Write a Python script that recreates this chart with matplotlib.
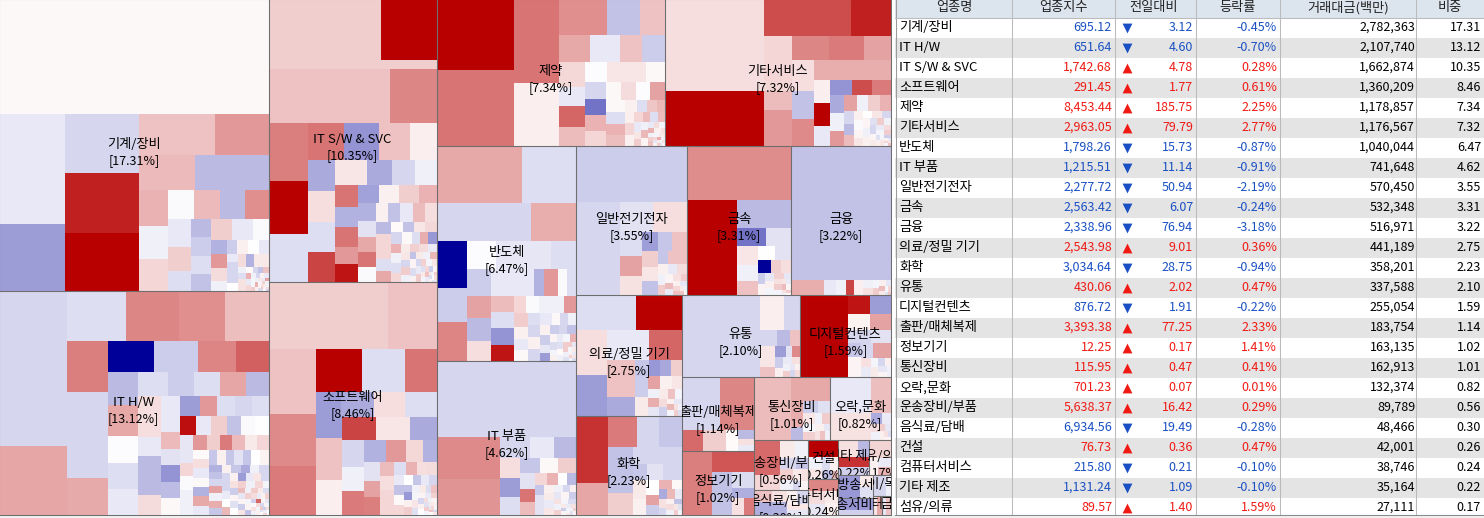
import matplotlib
matplotlib.use('Agg')
import matplotlib.pyplot as plt
from matplotlib.colors import LinearSegmentedColormap
from matplotlib.patches import Rectangle

plt.rcParams['font.family'] = ['Noto Sans CJK KR', 'DejaVu Sans']

# table columns
names = ['기계/장비', 'IT H/W', 'IT S/W & SVC', '소프트웨어', '제약', '기타서비스', '반도체', 'IT 부품',
         '일반전기전자', '금속', '금융', '의료/정밀 기기', '화학', '유통', '디지털컨텐츠', '출판/매체복제',
         '정보기기', '통신장비', '오락,문화', '운송장비/부품', '음식료/담배', '건설', '컴퓨터서비스',
         '기타 제조', '섬유/의류']
index_val = ['695.12', '651.64', '1,742.68', '291.45', '8,453.44', '2,963.05', '1,798.26', '1,215.51',
             '2,277.72', '2,563.42', '2,338.96', '2,543.98', '3,034.64', '430.06', '876.72', '3,393.38',
             '12.25', '115.95', '701.23', '5,638.37', '6,934.56', '76.73', '215.80', '1,131.24', '89.57']
diff_val = ['3.12', '4.60', '4.78', '1.77', '185.75', '79.79', '15.73', '11.14', '50.94', '6.07', '76.94',
            '9.01', '28.75', '2.02', '1.91', '77.25', '0.17', '0.47', '0.07', '16.42', '19.49', '0.36',
            '0.21', '1.09', '1.40']
rate_val = [-0.45, -0.70, 0.28, 0.61, 2.25, 2.77, -0.87, -0.91, -2.19, -0.24, -3.18, 0.36, -0.94, 0.47,
            -0.22, 2.33, 1.41, 0.41, 0.01, 0.29, -0.28, 0.47, -0.10, -0.10, 1.59]
amount_val = ['2,782,363', '2,107,740', '1,662,874', '1,360,209', '1,178,857', '1,176,567', '1,040,044',
              '741,648', '570,450', '532,348', '516,971', '441,189', '358,201', '337,588', '255,054',
              '183,754', '163,135', '162,913', '132,374', '89,789', '48,466', '42,001', '38,746',
              '35,164', '27,111']
share_val = ['17.31', '13.12', '10.35', '8.46', '7.34', '7.32', '6.47', '4.62', '3.55', '3.31', '3.22',
             '2.75', '2.23', '2.10', '1.59', '1.14', '1.02', '1.01', '0.82', '0.56', '0.30', '0.26',
             '0.24', '0.22', '0.17']
headers = ['업종명', '업종지수', '전일대비', '등락률', '거래대금(백만)', '비중']

# sectors in the map: those of the table, then the ones cut off below it
map_names = names + ['통신방송서비스', '방송서비스', '종이/목재', '터', '금']
map_shares = share_val + ['0.16', '0.13', '0.08', '0.07', '0.07']
sector_area = [785, 600, 474, 391, 333, 330, 299, 214, 165, 155, 149, 127, 104, 96, 74, 53.5, 46.6, 47,
               38.5, 26.5, 13.5, 12, 11, 11, 7.6, 7.75, 5.9, 3.75, 1.75, 1.75]
sector_rows = [2, 2, 2, 2, 3, 2, 2, 2, 2, 2, 2, 2, 2, 1, 2]
# how many leading rows of each sector are read as they stand, the rest fill up freely
sector_fixed = [14, 15, 12, 11, 10, 11, 9, 7, 7, 7, 1, 5, 5, 5, 6, 6, 7, 3, 4, 2, 4, 1, 1, 2, 1, 1, 1, 1, 1, 1]

# tiles per sector, row by row: (size, change %)
machinery = [
    [(307, .15)], [(72, -.45), (44, -1.95)], [(44, -.8), (44, 4.35), (43, 5)], [(31, 1.2), (22, 2)],
    [(20, 1.35), (26, -1.35)], [(10.4, 1.5), (9.6, -.3), (9.6, .8)], [(7.3, -.1), (7.3, 1.35), (7, -1.35), (6.7, 2.2)],
    [(6.4, -.45), (5.3, .95), (4.6, -.65)], [(3.8, -1.35), (3.8, -1), (3.6, -.65), (3.6, -1.2)],
    [(4.4, .95), (4.4, -.45), (3.2, -.1)], [(2.2, -1.5), (2, 2), (2, .7), (1.6, -.3)],
    [(1.5, -1), (1.5, .3), (1.5, 0), (1.4, -.45)], [(.9, -.45), (1.4, -.8), (1.1, -.8), (1, 0)],
    [(1, .7), (1, -1.5), (1, .4), (.9, .45)], [(.45, -.3), (.45, -.65), (.5, .55), (.5, .55), (.4, .1)],
    [(.3, -.8), (.3, -1.2), (.3, 1.2), (.3, 1.5)], [(.3, -.45), (.3, .8), (.25, -.3)],
    [(.2, -.8), (.2, .3), (.2, -.45), (.2, -.2)], [(.15, -.2), (.15, 1), (.15, -.3), (.15, 1.5), (.15, .3)],
    [(.1, .5), (.1, -.4), (.1, 1.8), (.1, -.2), (.1, .9)], [(.1, -.3), (.1, .2), (.1, -.7), (.1, .6)],
    [(.06, .4), (.06, -.2), (.06, 1.1), (.06, -.6), (.06, .2), (.06, -.1), (.06, .7), (.06, -.9)],
]
it_hw = [
    [(99, -.8), (44, 1.75)], [(27.6, -.65), (24.8, 2.35), (21.6, 2.2), (20.2, 1.25)], [(19.8, 2.5), (33, -.8), (14.4, 1.65)],
    [(13.4, -5), (12.9, -1), (10.9, 2.4), (9.5, 3.1)], [(9.2, -1.35), (8.9, 1.7), (7.6, -.05), (7.3, -.65), (7.3, -.45)],
    [(6.7, -.65), (5.9, -1), (5.9, -.65), (5.9, 1.75), (5, -1.35)], [(8.8, .65), (4.2, -.45), (8.4, -1.35), (4.2, .7)],
    [(3.7, -.45), (3.7, -1.95), (3.2, 2), (3.4, -.65), (3.1, -.8), (3.2, -.65)],
    [(3, -.45), (3, 1.35), (3, -.55), (3, -2.1), (3, -1.3), (3, .15)],
    [(2.85, 4.7), (2.7, -.45), (2.7, .95), (2.6, -1.2), (2.4, -.1), (2.4, 0)],
    [(2.2, -.5), (1.3, -.5), (1.6, .8), (1.6, -.1), (1.6, -.3), (1.5, -.3)],
    [(2, 2), (1.9, .95), (1.8, 2.6), (1.8, 1.35), (1.7, .4), (1.7, .8)],
    [(1.4, .1), (1.4, .65), (1.4, -.45), (1.4, .15), (1.4, -1.5), (1.4, 1.7), (1.4, -.45)],
    [(1.2, -1.1), (1.2, .3), (1.2, -1.1), (1.2, -.55), (1.2, -1.1), (1.2, 0), (1.2, .25)],
    [(.9, -1.5), (.9, -1.2), (.9, -.8), (.9, 1.8), (.9, -.3), (.9, 1.6), (.9, -1.1)],
    [(.7, .3), (.7, -1.1), (.7, -1.65), (.7, -.3), (.7, -.8), (.7, -.8), (.7, -.8)],
    [(.6, -.4), (.6, 0), (.6, 1.4), (.6, .3), (.6, -1.95), (.6, -.45), (.6, .5), (.6, -.8)],
    [(.5, .6), (.5, -1), (.5, .2), (.5, -.6), (.5, 0), (.5, .9), (.5, -.3), (.5, .8)],
    [(.35, -.2), (.35, 1.3), (.35, -.5), (.35, .2), (.35, -1), (.35, .5), (.35, -.3), (.35, 1)],
    [(.3, .4), (.3, -.7), (.3, .9), (.3, -.2), (.3, .2), (.3, -1.2), (.3, .7)],
    [(.2, -.4), (.2, .3), (.2, .9), (.2, -.9), (.2, -.1), (.2, .6), (.2, -.3), (.2, 3)],
    [(.15, .2), (.15, -.5), (.15, .7), (.15, -.2), (.15, .3), (.15, -.8)],
    [(.08, .3), (.08, -.2), (.08, 1.1), (.08, -.6), (.08, .1), (.08, -1), (.08, .6), (.08, -.3), (.08, .8), (.08, 0)],
]
it_sw = [
    [(66, .95), (33, 5)], [(15, .95)], [(62, 1.2), (24, 2.35)], [(22, 2.5), (20, 5), (18, -.65)],
    [(13, 2.7), (12.2, -2.1), (11.2, 1.2), (9.5, .35)], [(8.2, -1.65), (8, .65), (8, -.65), (7.7, 3.65)],
    [(7.6, .5), (6, -1.65), (5.5, -.8), (5.3, -.3)], [(5, 2.7), (4.6, -1.5), (4.4, 2.7), (4, 2), (3.9, 4.6)],
    [(3.7, -1.8), (3.7, .3), (3.7, .95), (3.2, 1.5)], [(3, -1.5), (2.7, -.55), (2.7, 1.7), (2.6, 2.7), (2.5, -.1)],
    [(2.1, .3), (2.1, -1.2), (2.1, -.45), (2.1, 1.3), (2.1, .65)], [(1.8, -1.35), (1.8, .8), (1.8, .8), (1.7, -.65), (1.6, 1.7)],
    [(1.2, .1), (1.2, -1.2), (1.2, .5), (1.2, .75), (1.1, -.8), (1.1, .15)],
    [(.9, -.65), (.9, 1.6), (.9, -2), (.9, 1.5), (.9, -.3), (.9, -.65), (.8, .8), (.7, .4)],
    [(.7, .9), (.7, .7), (.7, -.4), (.7, .5), (.6, -.8), (.6, 1), (.6, -.3)],
    [(.5, -1.2), (.5, .4), (.5, -.3), (.5, 1.4), (.5, .2), (.5, -.7)],
    [(.35, .3), (.35, -.8), (.35, .9), (.35, -.2), (.35, .5), (.35, -.4), (.35, 1)],
    [(.2, -.6), (.2, .4), (.2, -.2), (.2, .8), (.2, -1), (.2, .2), (.2, 1.2), (.2, -.4)],
    [(.1, .5), (.1, -.3), (.1, 1), (.1, -.7), (.1, .2), (.1, -.1), (.1, .7), (.1, -.5)],
]
software = [
    [(79, .95), (32, 1.2)], [(30, 1.2), (24, 2.3), (22.5, 2.6)], [(19.7, 5), (18, -.65), (13.4, 2.7)],
    [(6.2, -1.95), (8.2, -1.65), (7.7, .65), (7.9, -.65)], [(5.5, -1.95), (10.9, 1.2), (9.1, .35)],
    [(7.7, 3.65), (7.7, .5), (6.2, -1.65)], [(5.7, -.8), (5.3, -.3), (5.2, 2.6)], [(4.6, -1.5), (4.2, 2), (3.6, .75), (3, -1.5)],
    [(2.8, -.55), (2.5, 1.8), (2.7, 2.5)], [(2, 1.3), (2, .65), (1.8, .8), (1.8, .8)],
    [(1.4, -.65), (1.4, 1.5), (1.2, .65), (1.2, .7)], [(1, -.45), (1, -1.2), (1, .15), (1, .8)],
    [(.8, 0), (.8, -1.1), (.8, -.45), (.8, -.8)], [(.6, -1.2), (.6, -2), (.6, .3), (.6, 1), (.6, -.3)],
    [(.45, .4), (.45, -.7), (.45, 1.2), (.45, -.2), (.45, .5), (.4, -.6)], [(.3, .2), (.3, -.4), (.3, .9), (.3, -.8), (.3, .3), (.3, 0)],
    [(.2, .7), (.2, -.3), (.2, .2), (.2, -.6), (.2, 1), (.2, -.2), (.2, .4)],
    [(.1, .3), (.1, -.5), (.1, .8), (.1, -.2), (.1, 1.2), (.1, .1), (.1, -.8), (.1, .5)],
]
pharma = [
    [(52.5, 5), (55.5, 2.7)], [(36, 2.7), (26.7, .35)], [(16.5, 2.2), (11.5, -1.2), (8.6, 1.2)],
    [(7.7, 1.7), (7.4, -.45), (5.5, 1.2), (5.8, -1)], [(6.2, .75), (4.6, -.45), (5, 3), (4.6, 1.3)],
    [(4.5, -.05), (4, .5), (3.6, .5), (3.8, .15)], [(3.4, -.8), (3.2, -2.75), (3.2, 1.5), (2.9, .8)],
    [(2.5, .15), (2.4, .7), (2.4, -.05), (2.4, 1.8)], [(2.2, .15), (2.2, -.65), (2, 1.5), (1.9, 1.25)],
    [(1.5, .3), (1.2, -.65), (1.1, 1.1), (1, 1.4)], [(.9, .35), (.9, .8), (.9, .3), (.9, .8)],
    [(.7, 1.3), (.7, -.65), (.7, 1.3), (.7, -.45)], [(.5, .5), (.5, 1), (.5, -.3), (.5, 1.4), (.5, .2)],
    [(.3, -.4), (.3, .7), (.3, -.2), (.3, 1.5), (.3, .3)], [(.2, .6), (.2, -.3), (.2, .9), (.2, 1.2), (.2, -.2), (.2, .4)],
    [(.12, .8), (.12, -.5), (.12, .2), (.12, 1.6), (.12, -.3)], [(.07, .4), (.07, 1), (.07, -.2), (.07, .6), (.07, -.6), (.07, .2)],
]
other_service = [
    [(90, .65), (53, 5)], [(31.7, 3.5), (14.4, 4.35)], [(15.4, .8), (5.4, 1.3), (10, 2)], [(8.9, 2.35), (8.6, 2.6), (6.5, 1.8)],
    [(6.5, .65), (5.9, -1.2), (5.7, 2.3)], [(15, 1.6)], [(3.8, .35), (3.7, 5), (3.2, -.45)], [(3.2, -2.1), (2.9, 3.5), (2.7, 2.6)],
    [(2.5, -1.65), (2.3, -.3), (2, 2)], [(2, 1.8), (1.8, -.3), (1.8, .95), (1.8, 1.5)], [(1.3, -.8), (1.1, -1.35), (1, 1.3)],
    [(.9, .3), (.9, -.1), (.8, .2), (.7, .5), (.7, 0)], [(.7, .5), (.7, -.8), (.7, .2), (.6, -.3), (.6, .3)],
    [(.5, -.6), (.5, 1), (.5, -.3), (.5, -.8), (.4, .2)], [(.35, .4), (.35, -.4), (.35, .7), (.35, -.2), (.35, 1)],
    [(.2, -.6), (.2, .3), (.2, -.2), (.2, .5), (.2, -1)], [(.08, .3), (.08, -.4), (.08, .8), (.08, -.2), (.08, .5), (.08, 1.2)],
]
semicon = [
    [(44, 1.7), (28, -.65)], [(33, -.8), (15.7, 1.6)], [(12.6, -5), (9.2, -1), (10.6, 2.4)], [(7.5, -.05), (6.8, -.5), (7, -.5), (6.5, -.65)],
    [(5.8, -1), (5, 1.8), (5, -1.35), (4.4, .65)], [(10.2, -.45), (2.5, -1.5), (3.4, 2), (2.1, -.1), (2.3, -.65)],
    [(3.3, 1.3), (3.3, -.65), (3.3, -2.1), (3.3, 4.6)], [(1.9, .8), (1.9, -.1), (1.9, -.3), (1.9, -.3), (1.9, 2)],
    [(1.8, 1), (1.6, .3), (1.4, -.45), (1.4, .15)], [(1.3, -.65), (1.3, -.8), (1.3, .3), (1.3, -.8), (1.3, -.45)],
    [(.9, .15), (.9, -.8), (.9, -.3), (.9, .3), (.9, -1)], [(.7, -.5), (.7, -1.95), (.7, -1), (.7, -.8), (.7, -1.2)],
    [(.5, .2), (.5, -.4), (.5, -.2), (.5, 1.5), (.5, -.7)], [(.35, -.2), (.35, .3), (.35, -.6), (.35, .1), (.35, -.3), (.35, 1)],
    [(.2, -.5), (.2, 1), (.2, -.2), (.2, .4), (.2, -.3), (.2, -.6)], [(.1, .3), (.1, -.4), (.1, .9), (.1, -.2), (.1, .5), (.1, -.7)],
]
it_parts = [
    [(104, -.8)], [(25.6, 2.3), (22.6, 2.1)], [(5.9, -.8), (4.6, -.45), (4.4, -1.35)], [(3.8, .65), (3.6, -1.95), (3.4, -.65)],
    [(3, -1.1), (2.8, .15), (2.7, .95)], [(2.3, -.55), (2, 2.7), (1.9, 1.3)], [(1.4, .8), (1.2, 1.5), (1.1, 0), (1, -1.35)],
    [(.9, -1.1), (.9, -.55), (.9, -.55), (.8, .3)], [(.7, .4), (.7, -.4), (.7, .5), (.7, -.3)], [(.5, -.8), (.5, .3), (.5, -.5), (.5, .2), (.5, -1)],
    [(.35, .6), (.35, -.3), (.35, .9), (.35, -.2), (.35, -.7)], [(.2, .4), (.2, -1), (.2, .2), (.2, -.4), (.2, .6), (.2, -.2)],
    [(.1, .5), (.1, -.3), (.1, .9), (.1, -.6), (.1, .2)],
]
electric = [
    [(60, -1)], [(39, -.8)], [(9.5, -.55), (9.8, .65)], [(5.2, -.65), (4.2, 1.8), (4, .55)], [(3, -1.9), (2.7, -1.1), (2.7, 1.2)],
    [(2.5, .95), (2.2, .5), (2.2, -1.2)], [(1.2, -1.1), (2.4, 1.2)], [(1, .3), (1, -.45), (1, .7)], [(.7, -.3), (.7, 1), (.7, .2)],
    [(.5, 1.3), (.5, -.4), (.5, .6), (.4, 1)], [(.3, .3), (.3, -.5), (.3, .8), (.3, 1.2)], [(.15, .4), (.15, -.3), (.15, 1.1), (.15, .2)],
]
metal = [
    [(55, 2.25)], [(46, 5)], [(14, -1.35)], [(5.2, -2.75), (4.5, -.55)], [(3.6, .5), (3.2, -.3), (2.7, 1.2)], [(2.3, 0), (2, -.55)],
    [(1.7, -5), (1.3, .95), (1.3, .65)], [(.8, -1), (.8, .2), (.7, -.5)], [(.6, .3), (.6, -.2), (.6, .9)], [(.4, -.5), (.4, .6), (.4, 1), (.4, -.2)],
    [(.25, .5), (.25, -.4), (.25, 1.3), (.25, .2)], [(.12, .6), (.12, -.3), (.12, 1), (.12, .1)],
]
finance = [[(134, -1.2)], [(5, 1.6), (1.9, -.45), (1.5, -.3), (1.3, 3.65), (1.3, .35), (.9, -.3), (.7, .6), (.5, -.2), (.4, 1), (.4, .3)],
           [(.3, -.5), (.3, 1.3), (.2, .4), (.2, -.2), (.2, .8), (.1, -.6), (.1, 1.1)]]
medical = [
    [(19, -.65), (14.6, 5)], [(12.6, .65), (11.6, -1.95)], [(11.2, -.45), (9, 3)], [(9.6, 1.2), (4.8, -1.65)], [(1.9, -1.1), (1.6, -2), (1.7, -1.7), (1.5, .95)],
    [(2.5, -1), (2.2, .4)], [(1.4, 1.8), (1.4, .3), (1.2, .5)], [(.9, -.3), (.9, 1.6), (.9, -.5), (.8, .4)], [(.6, 1.2), (.6, -.2), (.6, .7), (.6, -.9)],
    [(.4, .3), (.4, -.5), (.4, 1.4), (.4, -.2)], [(.2, .6), (.2, -.3), (.2, 1), (.2, -.7)],
]
chemical = [
    [(19.4, 4), (9.3, 1.75)], [(8.1, 2.6), (6.4, -.8), (6.4, -1.1)], [(10.5, -1.2), (5, .95)], [(7.5, -.8)], [(2.2, -1.1), (2.4, -.55), (2.9, -.8)],
    [(2.2, .4), (1.9, .3), (1.8, 0)], [(1.3, 1.8), (1.2, -1), (1, 1.5)], [(.8, .15), (.7, -1.65), (.7, 1.4)], [(.6, -.4), (.6, .6), (.5, -.8)],
    [(.4, .3), (.4, -1.2), (.4, .7), (.3, -.3)], [(.2, .5), (.2, -.6), (.2, 1), (.2, -.2)],
]
retail = [
    [(61.6, -.8)], [(7.7, .35), (5.4, -.8)], [(2.7, -.8), (2.1, -1.35), (1.6, 1.2)], [(2.9, .5), (1.4, 1.2)], [(1.1, -1.95), (.6, -.55), (.8, 2.3)],
    [(.8, -1), (.7, .3), (.6, -.4)], [(.5, .6), (.5, -.3), (.4, 1)], [(.3, -.5), (.3, .3), (.3, -.8), (.3, .7)],
]
digital = [
    [(39, 5)], [(4.2, 4.6), (4, -1.95)], [(3.7, .25), (3.5, 1.8)], [(3, -.8), (2.6, -.55)], [(1.8, -1.1), (2.6, .2)], [(1.8, -.8), (2.6, 1.8)],
    [(1, .6), (1, -.4)], [(.7, -.2), (.7, .4), (.6, -.8)], [(.5, .3), (.5, -.5), (.4, .2), (.4, -.3)],
]
publish = [[(19.8, -.8), (17.7, 2.35)], [(4.4, 2.9)], [(4.6, .95)], [(2.5, .1)], [(1.5, -1.35)], [(.9, .6), (.9, -.4)]]
info_dev = [[(19.5, 2.5)], [(9.4, 3.3)], [(8.8, -1.2)], [(3.5, -.7)], [(2.3, -1.6)], [(2, .6)], [(1.8, 2.6)]]
telecom = [
    [(20.5, 1.3)], [(8.6, 1.7)], [(2.9, 1.6), (1.4, -1.35)], [(1.6, -1), (1.3, -.6)], [(1.1, .5), (.9, -.2), (.8, .9)], [(.7, -.3), (.7, 1), (.6, .3)],
    [(.4, -.5), (.4, .6), (.4, 1.2), (.3, -.3)],
]
leisure = [[(15, -.45), (7, 1.25)], [(11, .55)], [(1.2, -1.65), (1, -.4)], [(.7, .7), (.7, -.3)], [(.4, 1), (.4, -.5), (.4, .3)], [(.2, .6), (.2, -.7), (.2, .2)]]
transport = [
    [(8.6, 2.9), (3.6, .8)], [(2.5, .4), (2.2, -.3)], [(1.6, -.8), (1.3, -1.2)], [(1.2, .9), (1.1, -.3), (1, .4)], [(.7, .6), (.6, -.8), (.6, .2)],
]
food = [[(2.2, 1.2), (2.2, -1.6)], [(1.8, .6), (1.8, -1.5)], [(1.5, .3), (1.5, -.8)], [(1.3, .5), (1, -.5)]]
construction = [[(5.4, 5)], [(1.6, -.3), (1.4, .5)], [(1.2, -.7), (1.1, .3)], [(.8, -1.3), (.5, 1.4)]]
computer = [[(3.6, 2.35)], [(2.2, .7), (1.8, -.5)], [(1.6, .4), (1.7, .3)]]
other_mfg = [[(3.2, .6), (2, -1.4)], [(2.9, 4), (2.4, -.9)]]
textile = [[(3.9, .85)], [(1.5, .3), (1.2, -.4), (1, 1.5)]]
broadcast = [[(4.8, -2)], [(1.5, .4), (1.4, -.6)]]
telecom_svc = [[(4.2, -2), (1.7, -.9)]]
paper = [[(2.8, -.8), (1, -.3)]]
rest_a = [[(.9, .5), (.9, 1.7)]]
rest_b = [[(.9, -.5), (.9, 1.2)]]
sector_tiles = [machinery, it_hw, it_sw, software, pharma, other_service, semicon, it_parts, electric, metal,
                finance, medical, chemical, retail, digital, publish, info_dev, telecom, leisure, transport,
                food, construction, computer, other_mfg, textile, broadcast, telecom_svc, paper, rest_a, rest_b]

MAP_W, MAP_H = 891, 515
UP, DOWN = '#f01a14', '#1a50c4'
heat = LinearSegmentedColormap.from_list('heat', ['#000099', '#ffffff', '#b80000'], N=256)


def worst(row, side, scale):
    s = sum(a for a, _ in row) * scale
    return max(max(side * side * a * scale / s ** 2, s ** 2 / (side * side * a * scale)) for a, _ in row)


def take_row(tail, w, h, total):
    # usual squarify step: grow the row while its tiles get squarer
    scale = w * h / total
    side = min(w, h)
    row = [tail.pop(0)]
    while tail and worst(row + [tail[0]], side, scale) <= worst(row, side, scale):
        row.append(tail.pop(0))
    return row


def layout(rows, x, y, w, h, fixed=None):
    # each row runs along the shorter side of what is left
    fixed = len(rows) if fixed is None else fixed
    todo = list(rows[:fixed])
    tail = [t for row in rows[fixed:] for t in row]
    total = sum(s for row in rows for s, _ in row)
    out = []
    while todo or tail:
        row = todo.pop(0) if todo else take_row(tail, w, h, total)
        row_sum = sum(s for s, _ in row)
        frac = row_sum / total
        pos = 0
        for s, v in row:
            part = s / row_sum
            if w >= h:
                out.append((x, y + pos * h, w * frac, h * part, v))
            else:
                out.append((x + pos * w, y, w * part, h * frac, v))
            pos += part
        if w >= h:
            x, w = x + w * frac, w * (1 - frac)
        else:
            y, h = y + h * frac, h * (1 - frac)
        total -= row_sum
    return out


fig = plt.figure(figsize=(14.84, 5.18), dpi=100, facecolor='white')
ax = fig.add_axes([0, 0, 1, 1])
ax.set_xlim(0, 1484)
ax.set_ylim(518, 0)
ax.axis('off')

# treemap, the outer edge on the left and top falls just outside the picture
sector_items = list(zip(sector_area, range(len(sector_area))))
grouped = []
i = 0
for n in sector_rows:
    grouped.append(sector_items[i:i + n])
    i += n
boxes = layout(grouped, -1, -1, MAP_W + 1, MAP_H + 1)

for x, y, w, h, k in boxes:
    for tx, ty, tw, th, v in layout(sector_tiles[k], x, y, w, h, sector_fixed[k]):
        ax.add_patch(Rectangle((tx, ty), tw, th, facecolor=heat((v + 5) / 10), linewidth=0, antialiased=False, zorder=1))
for x, y, w, h, k in boxes:
    ax.add_patch(Rectangle((x, y), w, h, facecolor='none', edgecolor='#6e6e6e', linewidth=0.75, zorder=2))
    clip = Rectangle((x, y), w, h, transform=ax.transData)
    cx, cy = x + w / 2, y + h / 2
    t1 = ax.text(cx, cy - 1, map_names[k], ha='center', va='center', fontsize=9.5, color='black', zorder=3, clip_on=True)
    t2 = ax.text(cx, cy + 15, '[' + map_shares[k] + '%]', ha='center', va='center', fontsize=9, color='black', zorder=3, clip_on=True)
    t1.set_clip_path(clip)
    t2.set_clip_path(clip)

# table
TX0, TX1 = 895, 1484
seps = [1012, 1115, 1196, 1280, 1416]
head_cx = [954, 1063, 1154, 1238, 1348, 1450]
HEAD_H, ROW_H = 17.5, 20

ax.add_patch(Rectangle((0, 515), 1484, 3, facecolor='#f0f0f0', linewidth=0, zorder=1))
ax.add_patch(Rectangle((TX0, 0), TX1 - TX0, HEAD_H, facecolor='#dce4ee', linewidth=0, zorder=1))
for r in range(len(names)):
    top = HEAD_H + r * ROW_H
    height = min(ROW_H, 515 - top)
    ax.add_patch(Rectangle((TX0, top), TX1 - TX0, height, facecolor='white' if r % 2 == 0 else '#e4e4e4', linewidth=0, zorder=1))
for sx in seps:
    ax.plot([sx, sx], [0, 515], color='#bbbbbb', lw=0.75, zorder=2)
ax.plot([TX0 + .5, TX0 + .5], [0, 515], color='#9a9a9a', lw=0.75, zorder=2)
ax.plot([TX0, TX1], [HEAD_H, HEAD_H], color='#bbbbbb', lw=0.75, zorder=2)
ax.plot([TX0, TX1], [515, 515], color='#8a8a8a', lw=0.75, zorder=2)

for cx, label in zip(head_cx, headers):
    ax.text(cx, 8, label, ha='center', va='center', fontsize=9.5, color='#222222', zorder=3)

for r, name in enumerate(names):
    cy = HEAD_H + r * ROW_H + 10
    col = UP if rate_val[r] >= 0 else DOWN
    ax.text(899, cy, name, ha='left', va='center', fontsize=9.5, color='black', zorder=3)
    ax.text(1112, cy, index_val[r], ha='right', va='center', fontsize=9, color=col, zorder=3)
    ax.scatter([1127], [cy], marker='^' if rate_val[r] >= 0 else 'v', s=50, color=col, linewidths=0, zorder=3)
    ax.text(1193, cy, diff_val[r], ha='right', va='center', fontsize=9, color=col, zorder=3)
    ax.text(1277, cy, f'{rate_val[r]:.2f}%', ha='right', va='center', fontsize=9, color=col, zorder=3)
    ax.text(1415, cy, amount_val[r], ha='right', va='center', fontsize=9, color='black', zorder=3)
    ax.text(1481, cy, share_val[r], ha='right', va='center', fontsize=9, color='black', zorder=3)

fig.savefig('out.png', dpi=100)
